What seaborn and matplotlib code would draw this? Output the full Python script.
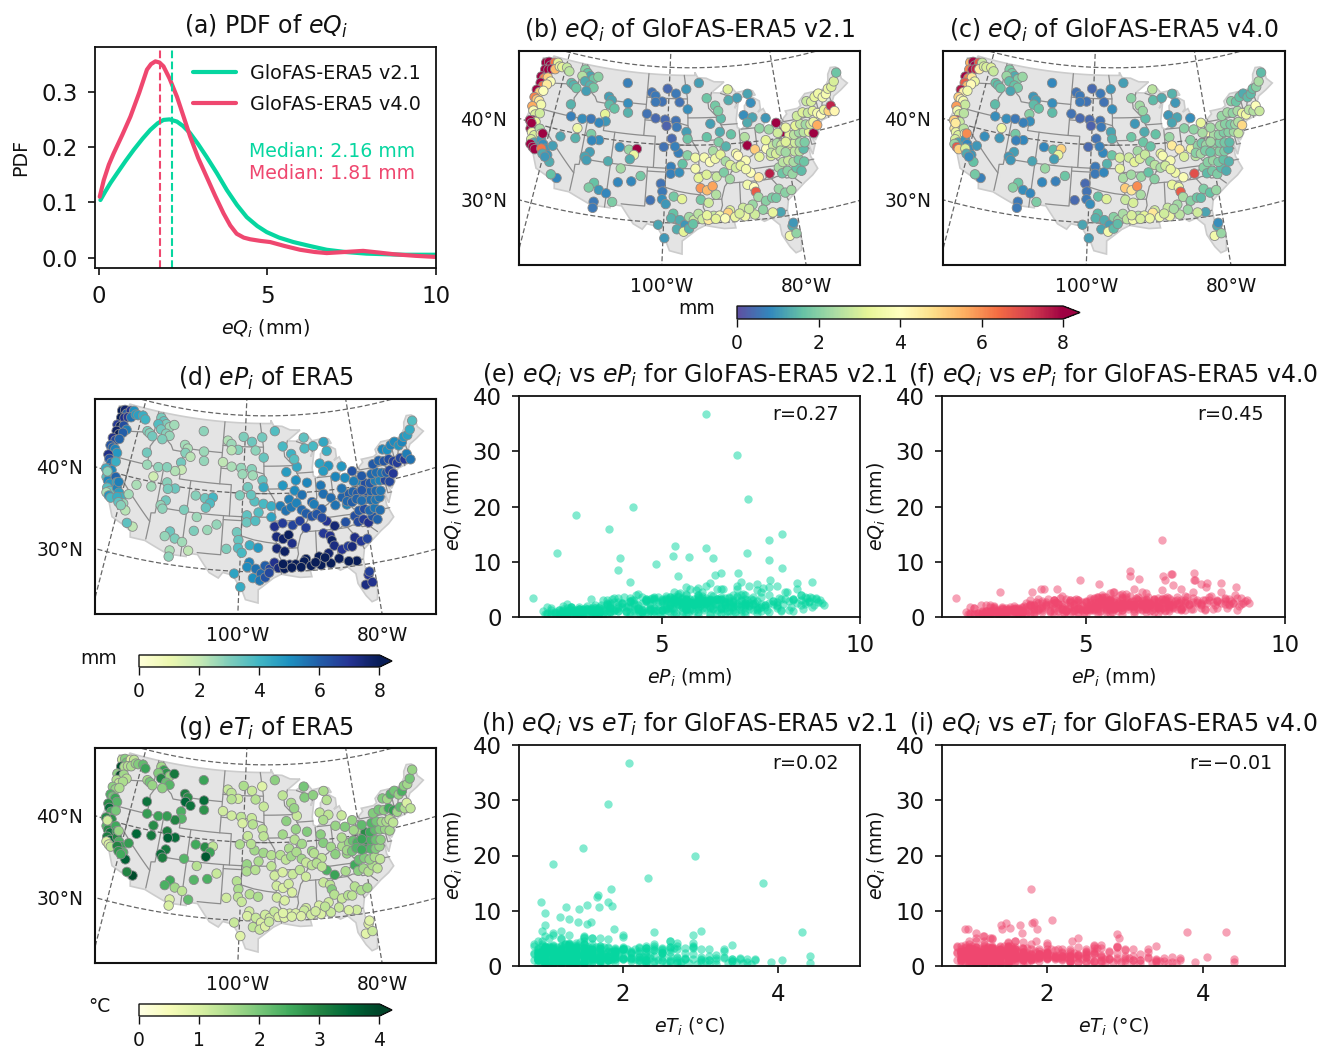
import matplotlib
matplotlib.use('Agg')
import matplotlib.pyplot as plt
import seaborn as sns
import numpy as np
import pandas as pd

# PDF curves
pdf_x_v21 = [0.05, 0.2, 0.35, 0.54, 0.8, 1.04, 1.3, 1.53, 1.75, 1.92, 2.1, 2.32, 2.5, 2.71, 2.95, 3.2, 3.5, 3.8, 4.1, 4.39, 4.7, 4.98, 5.35, 5.77, 6.25, 6.76, 7.3, 7.94, 9.0, 10.0]
pdf_y_v21 = [0.104, 0.12, 0.135, 0.152, 0.175, 0.195, 0.215, 0.231, 0.243, 0.249, 0.25, 0.246, 0.238, 0.225, 0.205, 0.182, 0.153, 0.122, 0.095, 0.073, 0.057, 0.046, 0.036, 0.028, 0.021, 0.014, 0.01, 0.007, 0.005, 0.005]
pdf_x_v40 = [0.03, 0.15, 0.3, 0.44, 0.7, 0.94, 1.2, 1.43, 1.55, 1.68, 1.8, 1.92, 2.1, 2.32, 2.5, 2.71, 2.95, 3.2, 3.45, 3.7, 3.9, 4.09, 4.3, 4.49, 4.8, 5.08, 5.5, 5.97, 6.4, 6.76, 7.3, 7.84, 8.3, 8.73, 9.4, 10.0]
pdf_y_v40 = [0.11, 0.14, 0.168, 0.188, 0.222, 0.255, 0.298, 0.34, 0.35, 0.355, 0.353, 0.346, 0.324, 0.291, 0.258, 0.219, 0.18, 0.146, 0.112, 0.08, 0.058, 0.043, 0.036, 0.033, 0.03, 0.028, 0.021, 0.014, 0.01, 0.008, 0.01, 0.012, 0.009, 0.006, 0.003, 0.001]
median_v21 = 2.16
median_v40 = 1.81

# gauge stations, one line per region, ten per line
station_lon = [
    -123.9, -123.4, -122.9, -122.3, -121.7, -123.7, -123.1, -122.5, -121.9, -121.2,
    -124.0, -123.4, -122.8, -122.1, -123.8, -123.2, -122.6, -124.1, -123.5, -122.9,
    -124.1, -123.6, -123.1, -122.6, -124.0, -123.6, -123.1, -122.4, -123.3, -122.7,
    -123.2, -122.8, -122.3, -121.7, -121.3, -122.6, -122.0, -121.0, -120.5, -120.0,
    -119.4, -118.8, -117.1, -118.1, -120.7, -119.8, -119.2, -118.3, -117.8, -117.2,
    -116.3, -115.7, -115.1, -114.4, -116.6, -115.9, -114.8, -113.6, -114.1, -115.3,
    -107.9, -111.0, -110.4, -110.7, -109.7, -107.4, -107.2, -111.2, -110.9, -112.0,
    -117.5, -117.0, -115.0, -113.5, -115.5, -118.0, -115.5, -113.0, -111.5, -112.7,
    -107.9, -106.3, -105.0, -105.4, -106.0, -107.3, -109.5, -112.7, -113.4, -113.0,
    -111.2, -111.9, -110.3, -109.1, -108.0, -110.8, -110.8, -107.5, -105.4, -104.0,
    -103.2, -102.5, -101.2, -102.4, -100.3, -98.7, -98.0, -96.8, -96.5, -103.8,
    -102.2, -100.5, -98.6, -100.2, -98.4, -96.7, -100.5, -99.2, -98.0, -98.6,
    -96.5, -95.2, -97.3, -95.2, -99.2, -99.2, -97.8, -100.7, -100.4, -102.2,
    -100.4, -99.8, -98.6, -97.3, -100.8, -98.6, -98.9, -97.6, -98.0, -99.8,
    -96.8, -96.2, -97.0, -96.2, -95.5, -94.8, -94.2, -95.6, -93.3, -92.5,
    -94.4, -93.4, -92.5, -94.7, -93.4, -91.8, -94.4, -93.2, -92.0, -90.6,
    -96.5, -93.2, -92.5, -90.6, -90.9, -89.0, -91.2, -92.2, -90.0, -88.4,
    -94.4, -93.0, -91.5, -91.0, -89.0, -89.0, -87.4, -85.4, -85.0, -86.5,
    -85.0, -86.0, -82.7, -81.0, -80.2, -84.0, -82.4, -81.0, -86.7, -86.4,
    -85.2, -83.3, -88.1, -86.9, -84.6, -82.7, -86.3, -85.1, -83.3, -81.7,
    -87.0, -86.0, -85.8, -85.5, -84.4, -86.5, -85.0, -83.4, -88.0, -90.0,
    -93.5, -91.6, -90.3, -89.3, -87.8, -86.3, -88.6, -90.8, -92.2, -87.1,
    -82.2, -81.3, -82.8, -80.3, -82.4, -83.6, -81.0, -80.8, -81.6, -80.6,
    -81.3, -80.4, -79.7, -78.9, -78.2, -80.9, -80.0, -79.2, -78.3, -77.5,
    -79.5, -78.7, -77.9, -77.2, -79.2, -78.4, -77.6, -76.8, -79.1, -78.3,
    -77.4, -76.6, -75.7, -75.0, -77.8, -76.9, -76.0, -75.2, -74.6, -74.1,
    -77.2, -76.1, -75.2, -74.3, -73.6, -73.0, -72.3, -71.6, -71.0, -70.6,
    -75.0, -74.2, -73.4, -72.6, -72.0, -71.3, -70.7, -70.0, -69.3, -68.4,
    -123.7, -123.3, -122.5, -122.0, -121.6, -121.0, -120.6, -120.2, -119.7, -118.9,
    -93.7, -92.8, -91.9, -91.0, -90.2, -89.5, -88.6, -87.8, -87.0, -89.7,
    -82.1, -81.4, -80.7, -79.9, -82.6, -81.8, -81.0, -80.2, -83.2, -79.5,
]
station_lat = [
    47.9, 48.1, 47.7, 48.2, 48.3, 47.0, 47.1, 47.3, 47.4, 47.9,
    46.0, 45.9, 46.1, 45.7, 45.2, 44.9, 45.2, 44.2, 44.0, 44.3,
    43.2, 43.0, 42.9, 42.5, 42.0, 41.5, 41.1, 41.4, 40.3, 40.2,
    39.2, 38.8, 38.5, 39.5, 38.9, 37.9, 37.6, 38.2, 37.7, 37.2,
    36.5, 35.7, 33.9, 34.2, 47.9, 48.0, 47.6, 46.2, 46.0, 45.7,
    48.3, 47.9, 47.6, 47.3, 47.4, 46.8, 46.4, 47.7, 46.2, 45.6,
    47.5, 45.4, 45.0, 44.4, 44.0, 44.9, 43.7, 43.1, 42.2, 41.9,
    43.5, 42.0, 42.0, 42.2, 40.7, 39.2, 39.4, 40.3, 39.7, 39.5,
    39.2, 39.0, 39.2, 38.4, 37.8, 36.5, 37.2, 38.0, 37.3, 36.9,
    34.2, 33.5, 33.4, 33.1, 32.1, 31.8, 31.0, 34.7, 35.0, 35.8,
    46.6, 46.2, 45.5, 45.4, 47.2, 46.6, 45.5, 47.2, 44.6, 43.8,
    43.3, 43.2, 43.1, 42.4, 42.3, 41.7, 39.7, 40.8, 39.0, 39.8,
    38.7, 38.4, 37.6, 37.0, 37.2, 36.3, 36.5, 35.0, 34.0, 32.8,
    33.0, 32.4, 33.4, 33.1, 29.7, 31.2, 30.6, 30.4, 29.2, 28.0,
    29.8, 30.8, 28.9, 29.3, 30.4, 31.2, 30.5, 29.9, 30.4, 30.9,
    34.5, 34.2, 34.7, 35.8, 36.2, 35.9, 33.0, 32.6, 33.6, 36.4,
    40.8, 41.0, 42.7, 43.3, 41.6, 41.2, 40.3, 39.2, 39.7, 38.7,
    48.0, 46.0, 45.0, 44.3, 47.0, 45.6, 45.8, 46.2, 45.0, 43.5,
    43.1, 42.5, 42.8, 42.0, 40.7, 41.6, 41.3, 40.7, 40.7, 39.6,
    39.0, 38.9, 38.4, 37.7, 38.0, 37.9, 36.1, 35.4, 35.7, 36.3,
    34.6, 34.2, 33.6, 32.9, 32.3, 32.0, 31.2, 32.6, 31.7, 31.5,
    31.0, 30.9, 31.2, 30.6, 30.6, 30.7, 31.0, 30.5, 30.5, 31.5,
    33.6, 33.0, 32.5, 33.2, 30.6, 30.7, 28.6, 29.0, 27.4, 27.6,
    35.5, 35.7, 35.2, 35.9, 35.4, 36.9, 37.0, 36.7, 36.9, 36.5,
    38.2, 38.0, 37.9, 38.1, 39.2, 39.1, 39.0, 38.9, 40.2, 40.1,
    40.3, 40.2, 40.1, 39.8, 41.2, 41.3, 41.1, 41.0, 41.2, 40.7,
    42.4, 42.7, 42.5, 42.6, 42.2, 41.9, 42.4, 42.1, 42.7, 41.9,
    44.0, 43.8, 44.3, 44.6, 44.0, 44.3, 44.9, 45.0, 45.6, 46.6,
    40.2, 39.9, 37.3, 37.0, 36.8, 39.0, 37.1, 36.5, 36.2, 37.8,
    38.4, 37.8, 38.2, 38.7, 37.8, 37.3, 36.9, 37.1, 36.6, 35.5,
    39.2, 39.4, 39.1, 39.4, 38.3, 38.1, 38.4, 38.1, 40.0, 41.2,
]
eq_v21 = [
    8.9, 13.9, 36.8, 6.4, 3.2, 15.1, 21.3, 8.0, 5.4, 3.3,
    29.3, 6.1, 5.0, 3.8, 10.3, 6.3, 4.5, 11.5, 5.0, 3.9,
    6.1, 5.2, 4.5, 3.6, 5.6, 3.8, 3.0, 2.9, 12.4, 3.3,
    16.0, 3.6, 3.0, 2.4, 4.2, 3.0, 1.2, 1.0, 0.9, 1.0,
    1.0, 1.3, 0.8, 1.6, 3.2, 2.8, 2.6, 1.5, 1.4, 1.7,
    2.0, 1.6, 1.2, 1.7, 2.5, 1.3, 1.4, 2.0, 1.8, 1.1,
    0.7, 1.1, 1.2, 1.5, 1.6, 0.9, 1.4, 3.2, 1.0, 0.8,
    1.4, 0.7, 0.9, 0.6, 3.5, 1.2, 1.4, 1.9, 0.9, 0.8,
    0.9, 2.2, 10.7, 3.4, 1.3, 2.3, 1.3, 1.1, 1.2, 1.1,
    1.6, 1.9, 1.0, 0.8, 1.9, 0.6, 0.6, 0.8, 0.8, 1.8,
    0.5, 0.6, 0.5, 0.6, 0.4, 0.6, 0.5, 1.0, 0.9, 0.5,
    0.4, 0.4, 0.5, 0.3, 0.6, 1.1, 0.5, 0.4, 0.7, 0.7,
    2.0, 3.5, 1.6, 3.7, 0.7, 0.7, 0.9, 0.5, 0.6, 0.5,
    0.9, 1.0, 1.8, 3.2, 1.2, 1.6, 1.4, 1.3, 1.3, 1.0,
    1.0, 2.3, 3.2, 1.4, 2.8, 2.6, 2.9, 1.6, 4.5, 2.8,
    5.9, 5.4, 5.7, 3.2, 3.1, 2.8, 1.8, 2.9, 2.5, 1.9,
    1.7, 1.6, 1.1, 1.5, 1.3, 1.6, 1.9, 2.4, 1.4, 3.6,
    1.1, 1.7, 1.8, 1.9, 3.1, 1.3, 1.1, 1.2, 0.9, 0.9,
    1.2, 1.3, 1.0, 10.6, 11.0, 2.1, 2.3, 2.9, 2.5, 10.9,
    5.1, 3.9, 4.1, 3.8, 3.3, 3.0, 3.9, 4.5, 7.6, 2.4,
    3.6, 4.0, 6.7, 2.3, 2.0, 2.2, 2.1, 1.9, 2.9, 3.1,
    3.3, 3.6, 5.0, 3.4, 3.5, 2.9, 3.0, 3.9, 3.2, 2.8,
    2.2, 2.0, 1.8, 2.3, 1.2, 3.3, 1.3, 1.0, 3.6, 2.1,
    1.7, 2.0, 2.2, 1.6, 1.5, 2.6, 2.8, 2.4, 1.9, 1.7,
    3.4, 2.7, 2.6, 1.5, 3.0, 2.9, 2.3, 1.9, 3.3, 2.6,
    2.3, 2.6, 3.2, 8.0, 3.2, 2.7, 2.3, 2.9, 3.4, 5.6,
    2.9, 3.1, 2.8, 3.2, 3.6, 4.0, 3.3, 5.0, 7.5, 4.2,
    2.8, 3.0, 3.3, 3.5, 3.6, 3.7, 3.4, 3.1, 3.0, 1.7,
    19.9, 18.4, 11.5, 9.6, 8.5, 12.8, 6.3, 1.3, 1.0, 1.1,
    3.7, 3.9, 3.5, 3.2, 2.4, 3.1, 2.9, 3.3, 3.6, 2.3,
    2.8, 2.4, 2.9, 3.1, 2.7, 3.0, 2.6, 2.3, 3.2, 3.4,
]
eq_v40 = [
    5.5, 7.9, 8.4, 6.7, 2.8, 6.1, 7.8, 7.5, 4.4, 3.0,
    13.9, 6.1, 4.6, 3.4, 6.7, 5.4, 4.1, 7.7, 4.4, 3.6,
    5.0, 4.2, 3.6, 2.8, 5.8, 3.7, 3.0, 2.6, 7.4, 2.8,
    4.5, 3.4, 3.0, 2.6, 3.8, 3.0, 1.2, 1.0, 0.8, 0.9,
    1.0, 1.6, 0.7, 1.8, 3.0, 3.1, 2.8, 1.6, 1.5, 1.7,
    1.9, 1.8, 1.3, 1.9, 2.2, 1.5, 1.6, 2.2, 1.8, 1.2,
    0.8, 1.0, 1.1, 1.5, 1.6, 0.9, 1.5, 2.0, 0.9, 0.7,
    1.5, 0.9, 0.9, 0.6, 3.5, 0.9, 1.0, 1.8, 0.8, 0.7,
    0.8, 1.5, 5.0, 3.3, 1.1, 2.2, 1.2, 1.1, 1.0, 1.0,
    1.7, 2.0, 0.9, 0.8, 1.9, 0.6, 0.6, 0.8, 0.7, 1.7,
    0.5, 0.6, 0.5, 0.6, 0.4, 0.6, 0.5, 1.0, 0.9, 0.5,
    0.4, 0.4, 0.5, 0.3, 0.6, 1.2, 0.4, 0.5, 0.8, 0.7,
    1.7, 3.0, 1.4, 3.3, 0.6, 0.6, 0.8, 0.4, 0.5, 0.4,
    0.6, 0.9, 1.6, 3.1, 1.2, 1.5, 1.4, 1.3, 1.2, 1.1,
    1.1, 2.0, 3.6, 1.5, 2.2, 2.4, 2.7, 1.5, 3.6, 2.5,
    5.1, 4.6, 6.0, 2.4, 2.3, 2.2, 2.8, 3.0, 2.4, 1.6,
    1.4, 1.7, 1.0, 1.5, 1.3, 1.6, 1.7, 2.3, 1.6, 3.3,
    1.1, 2.0, 2.3, 2.2, 2.6, 1.5, 1.3, 1.4, 1.0, 1.0,
    1.2, 1.2, 0.9, 3.3, 3.7, 2.0, 2.1, 2.4, 2.2, 4.5,
    4.5, 3.4, 3.7, 3.7, 3.0, 2.6, 3.5, 3.8, 6.9, 2.0,
    3.3, 3.5, 6.7, 2.4, 2.0, 2.3, 2.2, 1.7, 2.8, 2.9,
    3.0, 3.2, 4.6, 3.5, 3.4, 2.6, 2.9, 3.4, 3.0, 2.4,
    1.9, 1.6, 1.5, 2.2, 1.2, 2.9, 1.3, 0.9, 3.6, 2.2,
    1.5, 1.8, 1.9, 1.5, 1.3, 2.0, 2.2, 1.9, 1.6, 1.4,
    2.3, 2.0, 1.9, 1.4, 2.0, 1.9, 1.8, 1.5, 2.4, 2.1,
    1.9, 2.0, 2.3, 2.8, 2.3, 2.0, 1.9, 2.2, 2.5, 4.9,
    2.2, 2.3, 2.1, 2.4, 3.3, 3.5, 2.6, 2.5, 3.9, 2.8,
    2.0, 1.7, 1.6, 1.3, 1.5, 1.5, 1.6, 2.0, 2.4, 1.5,
    5.1, 4.5, 2.2, 6.7, 5.0, 6.0, 3.0, 1.3, 0.9, 1.0,
    2.9, 3.2, 3.0, 2.8, 2.0, 2.6, 2.4, 2.9, 3.3, 2.0,
    2.1, 1.8, 2.2, 2.3, 2.0, 2.3, 1.9, 1.7, 2.0, 2.3,
]
ep_era5 = [
    8.02, 7.71, 6.12, 7.0, 5.0, 8.04, 7.16, 6.93, 5.6, 4.7,
    6.9, 8.4, 6.4, 5.4, 7.71, 8.78, 6.0, 7.14, 6.5, 5.9,
    6.2, 5.9, 5.3, 4.8, 7.2, 6.3, 5.6, 4.2, 6.1, 5.1,
    3.65, 5.2, 4.8, 5.9, 4.4, 3.6, 3.3, 5.3, 4.6, 4.1,
    2.6, 2.2, 2.1, 3.5, 4.6, 4.2, 4.0, 3.0, 2.9, 3.2,
    3.1, 3.4, 3.0, 2.6, 3.7, 3.2, 2.9, 2.5, 2.7, 3.0,
    2.8, 2.5, 2.4, 2.9, 2.2, 2.6, 2.7, 3.2, 2.0, 2.3,
    3.2, 2.6, 2.8, 2.9, 1.75, 2.4, 2.5, 2.9, 3.3, 3.1,
    2.9, 3.3, 3.95, 3.8, 3.4, 2.6, 3.0, 3.2, 2.7, 2.8,
    3.3, 2.7, 3.0, 2.5, 2.1, 2.4, 2.8, 3.0, 2.6, 2.7,
    2.3, 2.6, 2.9, 2.2, 3.0, 3.3, 2.8, 3.2, 3.4, 2.1,
    2.4, 2.7, 2.9, 2.6, 2.5, 3.4, 3.0, 3.2, 3.6, 3.4,
    3.9, 4.2, 3.7, 4.5, 3.5, 3.3, 3.7, 3.2, 3.4, 3.0,
    3.7, 3.9, 4.2, 4.8, 4.5, 5.3, 5.1, 5.6, 5.0, 4.3,
    5.8, 6.0, 5.5, 6.3, 6.6, 7.1, 7.4, 6.5, 8.1, 7.9,
    7.4, 7.7, 7.9, 7.1, 6.8, 6.6, 7.5, 7.8, 7.2, 6.7,
    4.4, 4.8, 4.7, 4.4, 5.0, 5.2, 5.1, 5.4, 5.6, 5.9,
    3.7, 3.9, 4.1, 3.6, 3.5, 3.8, 3.9, 4.4, 4.2, 4.5,
    4.9, 4.7, 4.8, 6.28, 5.28, 5.2, 5.1, 5.4, 5.5, 5.68,
    5.7, 5.9, 5.4, 6.0, 5.6, 5.3, 7.0, 7.5, 6.33, 6.4,
    6.9, 7.1, 7.74, 7.3, 7.0, 7.6, 7.9, 6.8, 8.2, 8.5,
    8.3, 8.6, 8.4, 8.8, 8.9, 8.7, 9.0, 8.5, 8.1, 8.6,
    7.2, 6.9, 7.4, 6.6, 8.0, 8.3, 7.0, 6.7, 7.3, 7.1,
    6.5, 6.8, 7.1, 6.2, 5.9, 6.1, 6.4, 5.8, 5.5, 5.7,
    5.9, 5.7, 5.5, 5.6, 6.2, 5.9, 5.8, 5.5, 6.4, 6.1,
    5.4, 5.3, 6.5, 6.5, 5.8, 5.7, 5.6, 6.0, 6.6, 6.9,
    6.1, 5.9, 6.2, 6.4, 6.7, 6.8, 6.5, 6.9, 5.4, 5.6,
    5.2, 5.0, 5.3, 5.1, 4.9, 5.2, 4.8, 4.6, 4.3, 3.7,
    4.27, 2.84, 2.36, 4.86, 3.88, 5.34, 4.2, 3.5, 2.9, 2.5,
    5.4, 5.6, 5.5, 5.3, 5.8, 6.0, 6.3, 6.2, 6.5, 6.8,
    6.0, 5.9, 6.1, 6.2, 5.8, 6.0, 5.9, 5.7, 5.6, 6.1,
]
et_era5 = [
    1.19, 1.84, 2.07, 0.95, 1.3, 3.8, 1.48, 1.42, 1.5, 1.7,
    1.8, 4.3, 1.6, 1.4, 1.43, 1.2, 1.5, 1.81, 1.7, 1.5,
    2.4, 2.0, 2.6, 2.3, 2.9, 3.4, 2.5, 2.0, 1.66, 2.8,
    2.32, 2.9, 3.3, 2.5, 2.7, 3.1, 3.4, 3.0, 2.4, 2.6,
    2.3, 3.6, 3.9, 3.0, 1.9, 2.2, 2.6, 1.6, 2.0, 1.7,
    1.6, 2.7, 2.8, 1.7, 1.9, 3.0, 2.1, 3.2, 2.3, 1.8,
    2.6, 3.1, 2.9, 3.5, 3.3, 3.4, 2.8, 2.4, 2.3, 3.0,
    3.3, 2.7, 2.6, 2.7, 2.9, 3.5, 3.2, 3.1, 3.4, 3.6,
    2.5, 2.9, 1.27, 2.6, 3.7, 1.4, 2.3, 3.2, 3.4, 3.1,
    2.5, 2.4, 1.6, 1.3, 2.2, 1.0, 1.0, 2.3, 2.4, 1.2,
    1.2, 1.3, 1.1, 1.4, 1.5, 1.2, 1.4, 0.9, 1.2, 1.1,
    1.1, 1.3, 1.2, 1.0, 1.4, 1.3, 1.5, 1.2, 1.6, 1.4,
    1.6, 1.4, 1.5, 1.3, 1.7, 1.5, 1.4, 1.4, 1.5, 1.1,
    1.3, 1.2, 1.4, 1.5, 1.2, 1.1, 1.0, 1.2, 1.3, 0.9,
    1.0, 1.1, 1.2, 0.95, 1.1, 1.2, 1.0, 1.2, 0.9, 1.0,
    1.1, 1.0, 1.1, 1.1, 1.0, 1.2, 1.1, 1.0, 1.0, 1.3,
    1.3, 1.6, 1.8, 1.2, 1.7, 1.9, 1.4, 1.5, 1.6, 1.7,
    1.8, 1.3, 1.5, 1.7, 2.0, 1.9, 1.8, 1.5, 1.4, 1.3,
    1.3, 1.5, 1.2, 1.69, 1.54, 1.7, 1.9, 1.6, 1.8, 1.86,
    1.6, 1.5, 1.4, 1.3, 1.8, 1.7, 2.4, 2.6, 1.53, 2.5,
    1.2, 1.3, 1.88, 1.4, 1.2, 1.1, 1.2, 1.4, 1.0, 1.1,
    0.9, 1.0, 1.2, 1.1, 1.0, 1.2, 1.1, 0.95, 1.0, 1.3,
    1.4, 1.5, 1.3, 1.6, 1.1, 1.0, 0.95, 0.9, 0.85, 1.2,
    1.8, 1.6, 1.4, 1.5, 1.3, 2.1, 1.9, 1.7, 1.5, 1.3,
    2.6, 2.3, 1.9, 1.7, 2.7, 2.4, 2.1, 1.8, 2.9, 2.5,
    2.2, 1.9, 1.7, 1.59, 2.3, 2.0, 1.6, 1.5, 1.4, 1.3,
    1.9, 2.0, 1.8, 2.5, 2.7, 1.6, 2.2, 1.5, 1.0, 1.3,
    1.9, 1.6, 2.3, 2.0, 1.7, 2.4, 1.8, 1.6, 2.0, 1.7,
    2.93, 1.1, 0.94, 0.99, 1.3, 1.68, 3.0, 2.8, 2.5, 2.7,
    1.4, 1.3, 1.6, 1.5, 1.6, 1.2, 1.3, 1.4, 1.3, 1.1,
    1.7, 2.1, 2.4, 2.6, 1.6, 2.0, 2.3, 2.5, 1.5, 2.2,
]

# more points of the dense band in the scatter panels
band_ep = [
    2.05, 2.2, 2.3, 2.45, 2.6, 2.7, 2.8, 2.95, 3.05, 3.15,
    3.25, 3.35, 3.45, 3.55, 3.6, 3.7, 3.75, 3.85, 3.9, 4.0,
    4.05, 4.1, 4.15, 4.25, 4.3, 4.35, 4.45, 4.5, 4.55, 4.6,
    4.65, 4.7, 4.75, 4.85, 4.9, 4.95, 5.05, 5.1, 5.15, 5.2,
    5.25, 5.3, 5.35, 5.4, 5.45, 5.5, 5.55, 5.6, 5.65, 5.7,
    5.75, 5.8, 5.85, 5.9, 5.95, 6.0, 6.05, 6.1, 6.15, 6.2,
    6.25, 6.3, 6.35, 6.4, 6.45, 6.5, 6.55, 6.6, 6.65, 6.7,
    6.75, 6.8, 6.85, 6.9, 6.95, 7.0, 7.05, 7.1, 7.15, 7.2,
    7.25, 7.3, 7.35, 7.4, 7.45, 7.5, 7.6, 7.65, 7.7, 7.8,
    7.9, 7.95, 8.05, 8.15, 8.25, 8.3, 8.4, 8.5, 8.55, 8.65,
    8.7, 8.75, 8.85, 8.95, 9.05, 9.1, 8.8, 8.9, 8.6, 7.55,
    4.2, 4.4, 4.8, 5.0, 5.3, 5.6, 5.9, 6.2, 6.5, 6.8,
    7.1, 7.4, 7.7, 8.0, 8.3, 4.6, 5.2, 5.8, 6.4, 7.0,
    3.3, 3.8, 4.3, 4.9, 5.5, 6.1, 6.7, 7.3, 7.9, 3.5,
    2.5, 2.9, 3.4, 3.9, 4.4, 5.0, 5.6, 6.2, 6.8, 7.4,
    4.7, 5.3, 5.9, 6.5, 7.1, 5.1, 5.7, 6.3, 6.9, 7.5,
    3.1, 3.6, 4.1, 4.6, 5.1, 5.6, 6.1, 6.6, 7.1, 7.6,
    3.2, 3.7, 4.2, 4.7, 5.2, 5.7, 6.2, 6.7, 7.2, 7.7,
    4.0, 4.5, 5.0, 5.5, 6.0, 6.5, 7.0, 7.5, 8.0, 8.5,
    3.0, 3.4, 3.8, 4.4, 4.8, 5.4, 5.8, 6.4, 6.8, 7.3,
    4.3, 4.7, 5.2, 5.7, 6.1, 6.6, 7.0, 7.4, 7.8, 8.2,
    2.4, 2.7, 3.1, 3.6, 4.0, 4.5, 5.0, 5.5, 6.0, 6.6,
]
band_eq_v21 = [
    0.5, 0.7, 0.9, 0.6, 1.1, 0.8, 1.3, 1.0, 1.6, 1.2,
    1.8, 1.4, 2.2, 1.0, 2.6, 1.9, 3.2, 1.5, 2.8, 2.3,
    3.6, 0.9, 2.0, 3.0, 1.5, 3.9, 0.6, 2.5, 1.2, 3.3,
    0.8, 2.1, 3.5, 1.3, 2.7, 0.4, 1.8, 3.1, 1.0, 2.4,
    1.6, 3.7, 0.7, 2.2, 4.4, 1.1, 2.9, 1.9, 0.5, 3.3,
    1.4, 2.6, 4.8, 0.9, 2.0, 3.5, 1.2, 5.7, 2.8, 0.6,
    3.9, 1.7, 2.4, 0.8, 3.0, 1.4, 5.1, 2.1, 1.0, 3.4,
    1.9, 2.7, 0.9, 3.8, 1.5, 2.3, 4.2, 1.1, 3.0, 2.0,
    3.2, 1.3, 2.5, 4.8, 1.7, 3.6, 2.2, 1.2, 4.0, 2.9,
    1.6, 3.4, 2.4, 4.6, 1.9, 3.0, 2.6, 4.0, 1.5, 3.4,
    2.8, 3.6, 2.2, 2.7, 2.6, 2.2, 1.8, 3.2, 2.4, 5.2,
    0.3, 0.5, 0.3, 0.6, 0.4, 0.5, 0.3, 0.4, 0.7, 0.5,
    0.6, 0.8, 0.9, 1.0, 1.1, 2.9, 3.3, 2.4, 3.2, 3.1,
    0.7, 1.1, 2.6, 2.0, 2.8, 2.3, 2.6, 2.4, 2.0, 0.4,
    0.4, 0.5, 0.8, 3.4, 1.7, 1.3, 1.6, 1.8, 1.3, 1.2,
    2.3, 2.7, 1.9, 3.1, 1.8, 3.8, 3.1, 3.0, 2.4, 1.0,
    1.5, 2.4, 1.1, 2.9, 1.4, 2.2, 3.0, 1.6, 2.5, 1.9,
    0.9, 2.1, 2.9, 1.7, 2.4, 1.2, 2.0, 2.9, 1.4, 2.6,
    1.9, 1.3, 2.8, 0.6, 2.5, 1.9, 0.7, 2.4, 3.2, 2.1,
    1.0, 1.8, 2.7, 2.2, 1.1, 2.9, 2.2, 1.3, 2.7, 3.1,
    2.3, 1.4, 0.9, 2.5, 1.6, 0.8, 2.9, 1.5, 2.4, 1.2,
    0.9, 1.1, 1.4, 2.2, 2.5, 0.9, 2.9, 2.1, 1.6, 2.4,
]
band_eq_v40 = [
    0.5, 0.6, 0.8, 0.7, 1.0, 0.9, 1.2, 1.1, 1.5, 1.3,
    1.7, 1.3, 2.0, 1.0, 2.4, 2.1, 2.7, 1.6, 2.9, 2.2,
    3.2, 1.1, 2.3, 2.7, 1.6, 3.4, 0.8, 2.6, 1.4, 3.0,
    1.0, 2.4, 3.3, 1.5, 2.8, 0.7, 2.0, 3.0, 1.2, 2.6,
    1.9, 3.4, 1.0, 2.5, 3.6, 1.3, 3.0, 2.1, 0.9, 3.2,
    1.6, 2.8, 3.9, 1.2, 2.3, 3.3, 1.5, 3.8, 2.9, 1.0,
    3.5, 1.9, 2.6, 1.2, 3.1, 1.7, 3.7, 2.3, 1.3, 3.2,
    2.0, 2.8, 1.2, 3.3, 1.7, 2.5, 3.6, 1.4, 3.0, 2.2,
    2.9, 1.5, 2.6, 3.1, 1.8, 3.1, 2.4, 1.5, 3.4, 2.7,
    1.7, 3.0, 2.5, 3.8, 2.2, 2.9, 2.6, 3.3, 1.6, 2.9,
    2.5, 3.9, 2.0, 2.6, 3.1, 2.6, 1.3, 2.4, 2.1, 3.6,
    0.4, 0.5, 0.5, 0.6, 0.6, 0.7, 0.6, 0.8, 0.9, 0.8,
    1.0, 1.2, 1.4, 1.5, 1.7, 2.8, 3.2, 2.6, 3.0, 3.0,
    0.9, 1.3, 2.5, 2.2, 2.7, 2.5, 2.7, 2.6, 2.3, 0.8,
    0.4, 0.6, 0.9, 2.6, 1.8, 1.5, 1.9, 2.0, 1.6, 1.5,
    2.2, 2.8, 2.2, 3.0, 2.0, 3.4, 3.0, 3.1, 2.6, 1.3,
    1.4, 2.2, 1.3, 2.7, 1.6, 2.4, 2.8, 1.8, 2.7, 2.1,
    1.0, 2.0, 2.6, 1.9, 2.6, 1.4, 2.2, 3.0, 1.6, 2.8,
    2.0, 1.5, 2.9, 0.9, 2.7, 2.1, 1.0, 2.6, 3.0, 2.3,
    1.0, 1.7, 2.5, 2.3, 1.4, 3.0, 2.4, 1.5, 2.9, 3.0,
    2.3, 1.6, 1.2, 2.7, 1.8, 1.1, 3.0, 1.7, 2.6, 1.5,
    0.8, 1.1, 1.3, 2.0, 2.3, 1.1, 2.8, 2.3, 1.8, 2.6,
]
band_et = [
    1.05, 1.2, 0.95, 1.35, 1.15, 1.5, 0.9, 1.25, 1.4, 1.1,
    1.6, 1.05, 1.75, 1.3, 1.85, 0.9, 1.45, 1.2, 2.1, 1.55,
    0.95, 1.7, 1.25, 1.9, 1.1, 1.5, 2.3, 1.35, 1.65, 1.0,
    1.2, 0.85, 1.55, 2.0, 1.3, 1.75, 1.0, 1.4, 2.45, 1.15,
    1.6, 1.1, 2.2, 0.9, 1.45, 1.85, 1.25, 2.6, 1.35, 1.05,
    1.5, 0.95, 1.8, 1.3, 2.35, 1.15, 1.7, 2.0, 1.4, 1.0,
    1.25, 1.9, 0.9, 1.6, 1.35, 2.7, 1.05, 1.5, 1.2, 1.75,
    0.95, 1.45, 2.1, 1.1, 1.65, 1.3, 2.9, 1.0, 1.55, 1.2,
    1.4, 0.9, 1.7, 1.2, 2.2, 1.05, 1.35, 1.6, 0.85, 1.1,
    1.3, 1.0, 1.5, 0.95, 1.2, 3.0, 1.1, 1.25, 0.9, 1.05,
    3.3, 1.2, 1.0, 1.15, 1.3, 1.1, 4.4, 1.05, 0.95, 1.5,
    3.1, 3.35, 2.75, 3.55, 3.2, 2.85, 3.65, 2.95, 3.45, 4.4,
    2.55, 2.75, 3.05, 3.7, 4.05, 2.5, 2.65, 2.8, 2.3, 2.15,
    1.9, 2.2, 0.9, 1.05, 0.95, 0.85, 1.0, 0.9, 0.95, 1.3,
    0.9, 1.1, 1.5, 1.65, 1.95, 2.1, 2.05, 1.9, 2.25, 2.0,
    1.6, 1.35, 1.2, 1.05, 1.8, 1.25, 1.55, 2.05, 1.7, 1.15,
    1.0, 1.35, 1.7, 1.1, 2.0, 1.45, 0.9, 1.25, 1.85, 1.15,
    1.55, 0.95, 1.3, 1.75, 1.05, 2.15, 1.4, 1.2, 1.6, 1.0,
    1.25, 1.9, 1.05, 2.3, 1.5, 0.9, 1.7, 1.35, 2.0, 1.1,
    1.7, 1.15, 0.9, 1.4, 2.2, 1.6, 1.0, 1.85, 1.3, 1.55,
    1.2, 2.1, 1.45, 0.95, 1.75, 1.05, 1.6, 2.35, 1.3, 0.9,
    1.15, 0.85, 1.55, 1.3, 1.95, 1.4, 1.1, 1.75, 2.25, 1.0,
]

# map outline and state lines, lon/lat
us_outline = [(-124.7, 48.4), (-123.2, 48.2), (-122.8, 49.0), (-95.15, 49.0), (-95.15, 49.4), (-94.6, 48.7), (-93.0, 48.6), (-91.5, 48.1), (-89.6, 48.0), (-92.1, 46.7), (-90.5, 46.6), (-88.4, 47.4), (-87.5, 46.5), (-85.0, 46.7), (-84.4, 46.5), (-84.0, 45.9), (-85.5, 46.0), (-87.0, 45.7), (-87.6, 45.1), (-88.0, 44.5), (-87.3, 45.2), (-87.9, 43.0), (-87.8, 42.0), (-87.2, 41.7), (-86.5, 42.1), (-86.3, 43.5), (-86.2, 44.7), (-85.5, 45.2), (-84.8, 45.8), (-83.4, 45.1), (-83.4, 44.1), (-83.9, 43.7), (-82.9, 44.05), (-82.4, 43.0), (-83.1, 42.1), (-83.4, 41.7), (-82.5, 41.4), (-81.5, 41.6), (-80.0, 42.2), (-78.9, 42.9), (-79.05, 43.3), (-76.8, 43.35), (-76.2, 43.6), (-76.3, 44.2), (-75.0, 45.0), (-71.5, 45.0), (-71.0, 45.3), (-70.3, 45.9), (-70.0, 46.7), (-69.2, 47.45), (-68.3, 47.35), (-67.8, 47.05), (-67.8, 45.7), (-67.0, 44.9), (-68.5, 44.3), (-70.0, 43.8), (-70.7, 43.0), (-70.8, 42.3), (-70.0, 41.8), (-71.2, 41.5), (-73.0, 41.2), (-74.0, 40.7), (-74.1, 39.7), (-74.9, 38.95), (-75.5, 39.5), (-75.1, 38.5), (-75.9, 37.2), (-76.3, 39.0), (-76.3, 37.0), (-75.6, 35.3), (-76.6, 34.6), (-78.0, 33.9), (-79.3, 33.1), (-81.0, 32.0), (-81.4, 30.7), (-81.3, 29.5), (-80.5, 28.3), (-80.0, 26.8), (-80.3, 25.3), (-81.1, 25.1), (-81.8, 26.0), (-82.7, 27.7), (-82.8, 29.0), (-83.9, 30.0), (-85.0, 29.7), (-86.0, 30.3), (-88.0, 30.3), (-89.5, 30.2), (-89.3, 29.2), (-91.0, 29.2), (-93.8, 29.7), (-95.0, 29.2), (-97.2, 27.7), (-97.2, 26.0), (-99.0, 26.4), (-99.5, 27.5), (-101.0, 29.5), (-102.5, 29.75), (-103.1, 29.0), (-104.5, 29.6), (-106.5, 31.75), (-108.2, 31.78), (-108.2, 31.33), (-111.07, 31.33), (-114.8, 32.5), (-117.1, 32.53), (-117.3, 33.3), (-118.4, 33.8), (-120.6, 34.5), (-121.9, 36.6), (-122.5, 37.8), (-123.8, 39.3), (-124.4, 40.4), (-124.1, 41.9), (-124.5, 42.8), (-124.0, 44.8), (-124.0, 46.3), (-124.7, 48.4)]
state_lines = [
    [(-124.0, 46.25), (-123.2, 46.15), (-122.8, 45.65), (-121.2, 45.65), (-119.3, 45.93), (-116.92, 46.0)],
    [(-117.03, 49.0), (-117.04, 46.4), (-116.92, 46.0), (-116.5, 45.5), (-117.2, 44.4), (-117.03, 43.8), (-117.03, 42.0)],
    [(-124.2, 42.0), (-111.05, 42.0)],
    [(-120.0, 42.0), (-120.0, 39.0), (-114.63, 35.0), (-114.7, 32.7)],
    [(-114.04, 42.0), (-114.04, 37.0), (-114.05, 36.2), (-114.7, 36.1), (-114.63, 35.0)],
    [(-116.05, 49.0), (-116.05, 48.0), (-114.5, 46.6), (-114.4, 45.6), (-113.5, 45.1), (-113.0, 44.5), (-111.05, 44.5)],
    [(-111.05, 45.0), (-111.05, 41.0), (-102.05, 41.0), (-102.05, 37.0)],
    [(-109.05, 41.0), (-109.05, 31.33)],
    [(-114.04, 37.0), (-94.62, 37.0)],
    [(-111.05, 45.0), (-104.05, 45.0)],
    [(-104.05, 49.0), (-104.05, 41.0)],
    [(-102.05, 40.0), (-95.3, 40.0)],
    [(-103.0, 37.0), (-103.0, 32.0), (-106.6, 32.0)],
    [(-103.0, 36.5), (-100.0, 36.5), (-100.0, 34.56), (-98.0, 34.1), (-96.0, 33.8), (-94.48, 33.64), (-94.04, 33.55), (-94.04, 31.99), (-93.55, 31.2), (-93.8, 29.7)],
    [(-94.62, 36.5), (-94.43, 35.4), (-94.48, 33.64)],
    [(-94.62, 37.0), (-94.62, 39.1), (-95.3, 40.0), (-95.77, 40.58), (-96.0, 41.5), (-96.45, 42.5), (-97.9, 42.8), (-98.5, 43.0), (-104.05, 43.0)],
    [(-94.62, 36.5), (-90.15, 36.5), (-90.37, 36.0), (-89.7, 36.0)],
    [(-94.04, 33.0), (-91.17, 33.0), (-91.1, 32.2), (-91.6, 31.0), (-89.73, 31.0), (-89.6, 30.2)],
    [(-91.17, 33.0), (-90.6, 34.6), (-90.07, 35.1), (-89.7, 36.0), (-89.2, 36.6), (-89.1, 37.0), (-89.5, 37.3), (-90.2, 38.4), (-90.7, 39.0), (-91.4, 40.4), (-90.9, 41.0), (-90.2, 41.8), (-90.64, 42.5), (-91.2, 43.5), (-92.7, 44.7), (-92.8, 45.6), (-92.3, 46.1), (-92.1, 46.7)],
    [(-95.77, 40.58), (-91.7, 40.6), (-91.4, 40.4)],
    [(-104.05, 45.94), (-96.56, 45.94)],
    [(-97.2, 49.0), (-96.56, 46.0), (-96.56, 45.3), (-96.45, 43.5), (-96.45, 42.5)],
    [(-96.45, 43.5), (-91.2, 43.5)],
    [(-90.64, 42.5), (-87.8, 42.5)],
    [(-90.4, 46.55), (-88.1, 45.9), (-87.6, 45.1)],
    [(-87.53, 41.7), (-87.53, 39.3), (-88.0, 37.8)],
    [(-84.8, 41.7), (-84.8, 39.1)],
    [(-87.2, 41.76), (-83.45, 41.73)],
    [(-89.1, 37.0), (-88.0, 37.8), (-86.5, 37.95), (-85.7, 38.3), (-84.8, 39.1), (-84.3, 38.8), (-82.6, 38.4), (-81.7, 39.1), (-80.85, 39.7), (-80.52, 40.64)],
    [(-80.52, 42.0), (-80.52, 39.72), (-75.79, 39.72), (-75.7, 38.46), (-75.05, 38.46)],
    [(-79.76, 42.27), (-79.76, 42.0), (-75.35, 42.0), (-74.7, 41.36), (-75.1, 40.9), (-75.1, 39.9)],
    [(-74.7, 41.36), (-73.9, 41.0)],
    [(-73.35, 45.0), (-73.3, 42.75), (-73.5, 42.05), (-73.65, 41.0)],
    [(-71.5, 45.0), (-72.5, 43.0), (-72.46, 42.73)],
    [(-73.27, 42.75), (-71.3, 42.7), (-70.8, 42.87)],
    [(-73.5, 42.05), (-71.4, 42.0), (-71.1, 41.5)],
    [(-71.8, 42.0), (-71.85, 41.3)],
    [(-71.0, 45.3), (-70.7, 43.1)],
    [(-82.6, 38.2), (-81.97, 37.54), (-81.7, 37.2), (-80.3, 37.5), (-79.3, 38.4), (-78.35, 39.4), (-77.72, 39.32), (-77.0, 38.9), (-76.3, 38.0)],
    [(-89.4, 36.5), (-83.68, 36.6), (-81.68, 36.59), (-75.9, 36.55)],
    [(-90.3, 35.0), (-84.32, 34.99), (-83.1, 35.0), (-82.3, 35.2), (-81.05, 35.15), (-80.8, 34.82), (-79.67, 34.8), (-78.55, 33.86)],
    [(-81.68, 36.59), (-84.32, 35.0)],
    [(-83.1, 35.0), (-81.4, 33.0), (-81.0, 32.0)],
    [(-85.6, 34.98), (-85.18, 32.87), (-85.0, 31.0), (-84.86, 30.7), (-82.2, 30.57), (-81.45, 30.72)],
    [(-88.2, 35.0), (-88.4, 30.3)],
    [(-87.5, 30.3), (-87.6, 31.0), (-85.0, 31.0)],
]

parallels = [30, 40, 50]
meridians = [-120, -100, -80]
lon_ticks = [-100, -80]
lat_ticks = [30, 40]
lon_tick_labels = ['100°W', '80°W']
lat_tick_labels = ['30°N', '40°N']

W, H = 1321, 1050
GREEN = '#06D6A0'
PINK = '#EF476F'
XLIM_KM = (-2455, 2427)
YLIM_KM = (-1439, 1633)


def albers(lon, lat):
    # conus albers, returns km
    p1, p2, p0 = np.radians(29.5), np.radians(45.5), np.radians(37.5)
    n = (np.sin(p1) + np.sin(p2)) / 2
    c = np.cos(p1) ** 2 + 2 * n * np.sin(p1)
    rho = 6371 * np.sqrt(c - 2 * n * np.sin(np.radians(lat))) / n
    rho0 = 6371 * np.sqrt(c - 2 * n * np.sin(p0)) / n
    theta = n * np.radians(np.asarray(lon, dtype=float) + 96)
    return rho * np.sin(theta), rho0 - rho * np.cos(theta)


def dense(path):
    # straight lon/lat segments bend once projected
    lons, lats = [], []
    for (a, b), (c, d) in zip(path[:-1], path[1:]):
        k = max(2, int(abs(c - a) + abs(d - b)) * 2 + 2)
        lons.extend(np.linspace(a, c, k))
        lats.extend(np.linspace(b, d, k))
    return albers(np.array(lons), np.array(lats))


def add_axes(fig, left, right, top, bottom):
    return fig.add_axes([left / W, 1 - bottom / H, (right - left) / W, (bottom - top) / H])


def draw_map(ax, values, cmap, vmax, title):
    x, y = dense(us_outline)
    ax.fill(x, y, facecolor='#e4e4e4', edgecolor='#cccccc', lw=1.2, zorder=1)
    for line in state_lines:
        x, y = dense(line)
        ax.plot(x, y, color='#8c8c8c', lw=0.9, zorder=2)
    for lat in parallels:
        x, y = dense([(-140, lat), (-50, lat)])
        ax.plot(x, y, color='#666666', lw=0.9, ls=(0, (4, 2)), zorder=2.5)
    for lon in meridians:
        x, y = dense([(lon, 15), (lon, 60)])
        ax.plot(x, y, color='#666666', lw=0.9, ls=(0, (4, 2)), zorder=2.5)
    px, py = albers(np.array(station_lon), np.array(station_lat))
    df = pd.DataFrame({'x': px, 'y': py, 'v': values})
    sns.scatterplot(data=df, x='x', y='y', hue='v', palette=cmap, hue_norm=(0, vmax), s=46,
                    edgecolor='#8a8a8a', linewidth=0.6, legend=False, ax=ax, zorder=3)
    ax.set_xlim(XLIM_KM)
    ax.set_ylim(YLIM_KM)
    # labels sit where the graticule meets the frame
    xt = []
    for lon in lon_ticks:
        x, y = dense([(lon, 15), (lon, 40)])
        xt.append(np.interp(YLIM_KM[0], y, x))
    yt = []
    for lat in lat_ticks:
        x, y = dense([(-140, lat), (-96, lat)])
        yt.append(np.interp(XLIM_KM[0], x, y))
    ax.set_xticks(xt, lon_tick_labels)
    ax.set_yticks(yt, lat_tick_labels)
    ax.tick_params(length=0, labelsize=13.4, pad=8.5)
    ax.set_xlabel('')
    ax.set_ylabel('')
    for s in ax.spines.values():
        s.set_linewidth(1.5)
    ax.set_title(title, fontsize=17, pad=9.5)


def draw_bar(fig, cmap, vmax, ticks, left, right, top, bottom, unit, unit_x):
    cax = add_axes(fig, left, right, top, bottom)
    sm = plt.cm.ScalarMappable(norm=plt.Normalize(0, vmax), cmap=cmap)
    cb = fig.colorbar(sm, cax=cax, orientation='horizontal', extend='max', extendfrac=0.052)
    cb.set_ticks(ticks)
    cb.ax.tick_params(labelsize=13.5, length=6, width=1, pad=4.5)
    cb.outline.set_linewidth(1)
    fig.text(unit_x / W, 1 - (top + 3) / H, unit, fontsize=13.5, ha='center', va='center')


def draw_scatter(ax, x, y, color, xlim, xticks, xlabel, title, r):
    sns.scatterplot(x=x, y=y, color=color, alpha=0.5, s=36, linewidth=0, ax=ax)
    ax.set_xlim(xlim)
    ax.set_ylim(0, 40)
    ax.set_xticks(xticks)
    ax.set_yticks([0, 10, 20, 30, 40])
    ax.tick_params(labelsize=16.5, length=5, width=1.2, pad=7.5)
    ax.set_xlabel(xlabel, fontsize=13.7, labelpad=7)
    ax.set_ylabel(r'$eQ_i$ (mm)', fontsize=13.7, labelpad=5.5)
    ax.set_title(title, fontsize=17, pad=9.5)
    ax.text(0.84, 0.915, r, transform=ax.transAxes, fontsize=13.8, ha='center', va='center')
    for s in ax.spines.values():
        s.set_linewidth(1.3)


sns.set_style('ticks', rc={'text.color': '#111111', 'axes.labelcolor': '#111111',
                           'xtick.color': '#111111', 'ytick.color': '#111111',
                           'axes.edgecolor': '#111111', 'mathtext.default': 'it'})
fig = plt.figure(figsize=(W / 100, H / 100), dpi=100)

# (a)
ax = add_axes(fig, 95, 436, 47, 268)
sns.lineplot(x=pdf_x_v21, y=pdf_y_v21, color=GREEN, lw=3, ax=ax, label='GloFAS-ERA5 v2.1', sort=False, errorbar=None)
sns.lineplot(x=pdf_x_v40, y=pdf_y_v40, color=PINK, lw=3, ax=ax, label='GloFAS-ERA5 v4.0', sort=False, errorbar=None)
ax.axvline(median_v21, color=GREEN, ls='--', lw=1.5)
ax.axvline(median_v40, color=PINK, ls='--', lw=1.5)
ax.set_xlim(-0.11, 10)
ax.set_ylim(-0.019, 0.381)
ax.set_xticks([0, 5, 10])
ax.set_yticks([0, 0.1, 0.2, 0.3])
ax.tick_params(labelsize=16.5, length=5, width=1.2, pad=7.5)
ax.set_xlabel(r'$eQ_i$ (mm)', fontsize=13.7, labelpad=7)
ax.set_ylabel('PDF', fontsize=13.7, labelpad=8)
ax.set_title(r'(a) PDF of $eQ_i$', fontsize=17, pad=9.5)
ax.legend(frameon=False, fontsize=13.8, loc='upper left', bbox_to_anchor=(0.255, 0.975), handlelength=2.2, handletextpad=0.75,
          labelspacing=0.62, borderaxespad=0.2)
ax.text(4.46, 0.192, 'Median: %.2f mm' % median_v21, color=GREEN, fontsize=13.6, va='center')
ax.text(4.46, 0.152, 'Median: %.2f mm' % median_v40, color=PINK, fontsize=13.6, va='center')
for s in ax.spines.values():
    s.set_linewidth(1.3)

# maps
draw_map(add_axes(fig, 519, 860, 51, 265), eq_v21, 'Spectral_r', 8, r'(b) $eQ_i$ of GloFAS-ERA5 v2.1')
draw_map(add_axes(fig, 943, 1285, 51, 265), eq_v40, 'Spectral_r', 8, r'(c) $eQ_i$ of GloFAS-ERA5 v4.0')
draw_map(add_axes(fig, 95, 436, 399, 614), ep_era5, 'YlGnBu', 8, r'(d) $eP_i$ of ERA5')
draw_map(add_axes(fig, 95, 436, 748, 963), et_era5, 'YlGn', 4, r'(g) $eT_i$ of ERA5')

draw_bar(fig, 'Spectral_r', 8, [0, 2, 4, 6, 8], 737, 1080, 306, 319, 'mm', 697)
draw_bar(fig, 'YlGnBu', 8, [0, 2, 4, 6, 8], 139, 392, 655, 667, 'mm', 99)
draw_bar(fig, 'YlGn', 4, [0, 1, 2, 3, 4], 139, 392, 1004, 1016, '°C', 99)

# scatters
draw_scatter(add_axes(fig, 519, 860, 396, 617), ep_era5 + band_ep, eq_v21 + band_eq_v21, GREEN, (1.39, 10), [5, 10], r'$eP_i$ (mm)',
             r'(e) $eQ_i$ vs $eP_i$ for GloFAS-ERA5 v2.1', 'r=0.27')
draw_scatter(add_axes(fig, 942, 1285, 396, 617), ep_era5 + band_ep, eq_v40 + band_eq_v40, PINK, (1.39, 10), [5, 10], r'$eP_i$ (mm)',
             r'(f) $eQ_i$ vs $eP_i$ for GloFAS-ERA5 v4.0', 'r=0.45')
draw_scatter(add_axes(fig, 519, 860, 745, 966), et_era5 + band_et, eq_v21 + band_eq_v21, GREEN, (0.66, 5.05), [2, 4], r'$eT_i$ (°C)',
             r'(h) $eQ_i$ vs $eT_i$ for GloFAS-ERA5 v2.1', 'r=0.02')
draw_scatter(add_axes(fig, 942, 1285, 745, 966), et_era5 + band_et, eq_v40 + band_eq_v40, PINK, (0.66, 5.05), [2, 4], r'$eT_i$ (°C)',
             r'(i) $eQ_i$ vs $eT_i$ for GloFAS-ERA5 v4.0', 'r=$-$0.01')

plt.savefig('out.png', dpi=100)
